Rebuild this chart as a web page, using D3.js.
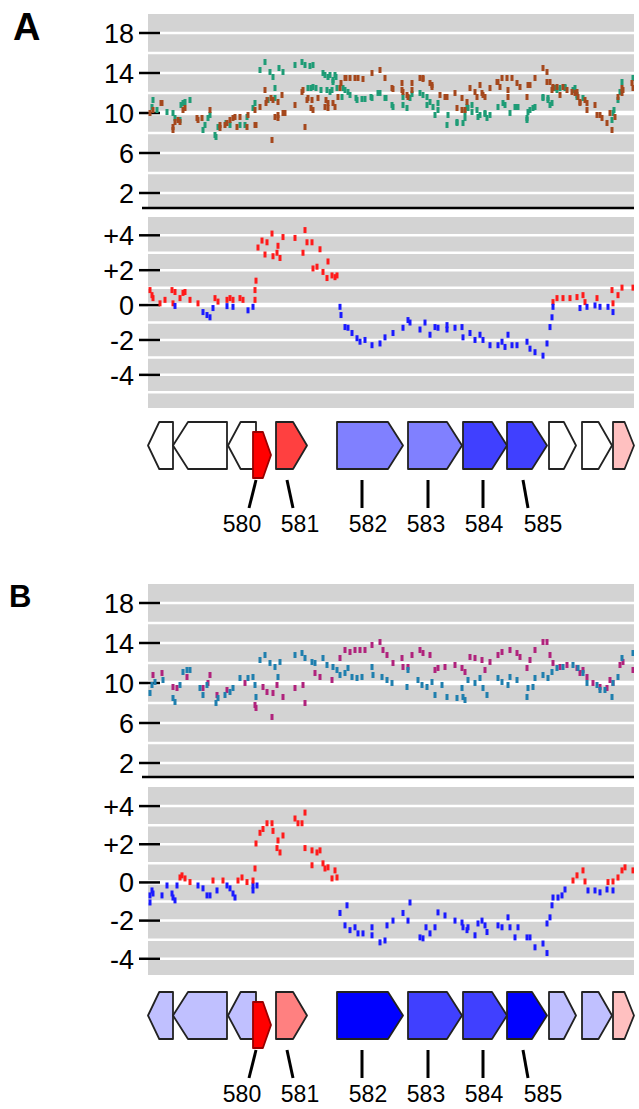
<!DOCTYPE html>
<html>
<head>
<meta charset="UTF-8">
<style>
  body { margin: 0; background: #fff; }
  svg { display: block; font-family: "Liberation Sans", Arial, sans-serif; }
</style>
<script src="https://d3js.org/d3.v7.min.js"></script>
</head>
<body>
<svg id="chart" width="639" height="1109"></svg>
<script>
// [position along the locus (0-486), value]

// panel A, upper track: two samples
var aTopGreen = [[4,10.6],[5,11.3],[9,10.3],[19,10.1],[25,10.0],[27,9.5],[32,9.3],[33,10.8],[35,11.0],[37,11.1],[42,11.3],[55,8.3],[57,8.8],[60,9.5],[62,9.8],[67,7.8],[68,7.6],[70,8.6],[78,9.0],[82,8.8],[92,8.8],[97,8.8],[99,9.6],[105,10.5],[107,11.0],[112,14.3],[117,15.1],[120,11.3],[122,14.1],[125,13.6],[127,12.5],[127,11.5],[131,14.5],[135,14.1],[147,14.8],[154,15.1],[157,14.8],[160,12.5],[162,14.7],[163,12.5],[165,14.8],[165,12.6],[168,12.5],[173,12.3],[175,14.0],[177,13.8],[179,12.3],[180,13.6],[182,13.8],[182,12.1],[184,12.3],[185,13.1],[185,13.3],[187,13.8],[188,13.6],[189,12.5],[194,11.6],[195,12.5],[197,12.3],[200,12.1],[202,11.8],[208,11.5],[209,11.3],[214,11.4],[217,11.4],[223,11.6],[224,11.5],[230,12.0],[232,12.0],[237,11.5],[238,11.5],[244,10.8],[245,10.6],[255,10.8],[255,11.6],[259,10.5],[262,11.5],[264,11.9],[272,12.0],[275,11.8],[279,11.6],[279,10.8],[282,11.1],[285,10.6],[287,9.8],[290,10.3],[290,11.0],[299,8.8],[300,9.8],[309,9.0],[309,9.1],[315,9.0],[317,9.5],[317,10.1],[319,10.6],[320,10.5],[324,10.8],[324,10.1],[329,10.3],[330,9.6],[332,9.8],[337,10.0],[337,9.9],[339,9.5],[342,9.8],[350,10.6],[355,11.0],[357,10.8],[362,10.0],[367,10.6],[369,10.6],[370,10.6],[379,9.5],[379,9.3],[380,10.1],[382,10.3],[385,10.5],[387,10.6],[395,11.6],[395,11.5],[400,11.3],[400,11.5],[402,10.8],[404,11.0],[407,12.5],[409,12.3],[412,12.5],[417,12.5],[417,12.6],[425,12.3],[427,12.5],[429,11.6],[429,11.8],[435,11.5],[464,9.3],[465,10.0],[466,10.3],[470,11.3],[472,12.1],[474,13.1],[485,13.5]];
var aTopBrown = [[2,10.0],[5,10.3],[13,11.0],[14,11.0],[25,8.6],[25,8.3],[27,9.1],[30,9.3],[32,9.1],[35,10.3],[37,10.5],[49,9.5],[50,9.3],[54,9.5],[62,10.3],[72,8.8],[72,8.5],[77,8.8],[79,9.0],[82,9.3],[85,9.5],[87,9.6],[89,8.6],[92,9.6],[99,8.6],[100,9.8],[107,8.8],[107,10.3],[108,8.8],[112,10.6],[117,12.3],[118,11.0],[119,11.3],[123,11.5],[124,7.3],[125,11.3],[127,9.6],[130,9.5],[130,11.1],[130,9.8],[134,11.8],[135,10.0],[137,10.0],[147,10.8],[154,12.1],[155,12.3],[157,8.6],[159,11.3],[160,11.5],[163,10.5],[164,11.3],[165,10.3],[170,11.5],[177,10.6],[178,11.3],[180,11.0],[180,10.5],[185,11.0],[187,10.6],[190,11.6],[192,12.5],[193,13.0],[197,13.5],[198,13.5],[202,13.5],[207,13.5],[210,13.5],[215,13.4],[224,14.0],[232,14.3],[237,13.5],[244,12.5],[245,12.4],[254,13.0],[254,12.3],[255,12.1],[259,11.8],[260,11.6],[264,13.0],[264,12.3],[272,13.5],[275,13.4],[275,13.5],[282,13.0],[284,12.8],[284,12.6],[292,11.8],[297,11.6],[299,11.6],[307,12.0],[309,10.5],[314,11.5],[314,10.3],[317,10.3],[319,11.1],[322,12.5],[327,12.1],[329,11.6],[332,12.8],[334,12.0],[335,11.8],[337,11.6],[342,12.5],[349,13.1],[350,13.1],[352,12.6],[354,13.5],[359,13.5],[360,12.3],[360,11.6],[364,13.5],[369,13.0],[372,12.6],[379,11.6],[380,12.8],[382,12.8],[387,13.5],[395,14.5],[399,14.1],[399,13.1],[402,13.1],[404,12.3],[405,12.6],[405,12.5],[409,12.6],[412,11.8],[415,12.6],[419,12.3],[424,12.1],[427,12.0],[429,12.1],[430,11.6],[432,11.0],[432,11.1],[437,11.3],[439,10.3],[439,11.0],[447,10.8],[449,9.8],[452,9.8],[454,9.5],[459,9.0],[462,10.0],[464,8.3],[467,9.6],[470,11.6],[474,12.0],[474,12.5],[475,12.3],[484,13.0],[485,12.5]];
// panel A, lower track: log2 difference
var aLow = [[2,0.86],[4,0.57],[5,0.4],[12,0.1],[17,0.3],[24,0.86],[25,0.1],[27,0.75],[32,0.4],[35,0.7],[37,0.75],[42,0.3],[50,0.1],[67,0.4],[70,0.2],[79,0.3],[82,0.4],[85,0.3],[92,0.4],[95,0.3],[107,0.3],[107,0.86],[108,1.4],[110,3.3],[114,3.7],[117,2.9],[119,3.6],[124,4.1],[125,2.8],[129,3.0],[130,3.4],[132,2.7],[135,3.9],[147,3.85],[155,3.0],[157,4.3],[159,3.6],[164,3.6],[165,2.1],[169,2.2],[172,3.2],[175,1.9],[179,1.55],[180,2.5],[184,1.7],[187,1.6],[189,1.7],[405,0.17],[409,0.4],[415,0.4],[422,0.4],[429,0.46],[435,0.57],[437,0.17],[449,0.4],[464,0.86],[465,0.1],[470,0.57],[474,1.0],[485,1.0],
  [27,-0.05],[55,-0.4],[59,-0.57],[62,-0.7],[65,-0.17],[79,-0.06],[85,-0.1],[100,-0.3],[105,-0.1],[192,-0.1],[193,-0.57],[197,-1.26],[200,-1.3],[204,-1.6],[209,-1.9],[212,-2.1],[217,-2.0],[224,-2.3],[232,-2.2],[237,-1.85],[245,-1.6],[255,-1.3],[260,-0.86],[262,-1.0],[272,-1.4],[277,-1.0],[282,-1.7],[287,-1.26],[290,-1.3],[299,-1.4],[299,-1.15],[307,-1.3],[314,-1.26],[315,-1.85],[322,-1.6],[327,-2.0],[332,-1.7],[335,-2.0],[342,-2.3],[350,-2.3],[354,-2.1],[357,-2.4],[360,-1.7],[364,-2.3],[369,-2.3],[379,-2.1],[382,-2.5],[387,-2.7],[395,-2.9],[399,-2.2],[402,-1.26],[404,-0.7],[405,-0.1],[432,-0.17],[439,-0.1],[447,-0.02],[452,-0.1],[460,-0.1],[465,-0.4]];

// panel B, upper track
var bTopBlue = [[2,9.0],[4,9.8],[7,10.1],[15,10.3],[25,8.5],[27,8.1],[32,9.8],[35,11.1],[39,11.3],[42,11.3],[52,9.5],[55,8.8],[59,9.8],[68,8.0],[70,8.5],[77,8.8],[82,9.1],[85,9.5],[92,10.5],[100,10.5],[105,10.6],[107,9.8],[108,8.6],[112,12.3],[117,12.8],[122,12.0],[127,11.6],[130,10.6],[132,12.1],[147,12.8],[154,13.0],[157,12.5],[164,12.1],[167,12.0],[175,12.5],[179,11.8],[185,11.6],[189,11.3],[192,10.8],[197,11.0],[200,11.5],[204,10.6],[209,10.5],[214,10.6],[224,11.6],[225,10.8],[234,10.6],[239,10.3],[244,10.0],[259,9.6],[260,11.3],[270,10.3],[274,9.8],[279,9.6],[284,10.1],[287,8.8],[294,9.8],[299,8.6],[309,8.5],[314,9.5],[315,8.6],[317,8.3],[320,10.3],[327,10.0],[332,10.5],[335,9.5],[339,8.8],[350,10.5],[354,10.1],[360,9.8],[362,10.6],[369,10.3],[379,8.6],[380,9.5],[385,9.6],[387,10.5],[395,10.8],[400,10.5],[404,11.1],[409,11.5],[415,11.6],[425,11.8],[430,11.5],[435,11.0],[439,10.0],[449,9.8],[452,9.3],[457,9.3],[464,8.6],[465,10.0],[470,10.6],[474,12.5],[485,13.0]];
var bTopMagenta = [[5,10.8],[14,11.0],[25,9.6],[29,9.5],[39,10.6],[55,9.5],[60,10.0],[62,10.8],[69,8.8],[79,9.3],[97,10.0],[107,7.8],[108,7.5],[115,9.6],[119,9.1],[124,6.6],[125,9.0],[129,9.8],[135,8.6],[147,9.5],[155,9.8],[157,8.0],[167,11.0],[172,10.6],[184,10.3],[192,12.5],[197,13.3],[202,13.1],[207,13.3],[212,13.3],[217,13.3],[224,13.8],[232,14.1],[235,13.3],[239,12.8],[245,12.0],[254,12.5],[255,11.6],[260,11.6],[264,12.8],[272,13.3],[275,13.0],[282,12.8],[287,11.3],[290,11.5],[297,11.6],[307,11.8],[314,11.5],[317,11.1],[322,12.6],[327,12.5],[334,12.3],[337,11.3],[342,12.1],[350,12.8],[354,13.1],[362,13.3],[369,13.0],[372,12.6],[379,11.5],[382,12.3],[387,13.3],[395,14.1],[399,14.1],[402,12.8],[405,12.0],[412,11.6],[419,11.8],[429,11.5],[432,11.0],[435,11.3],[439,10.6],[445,10.0],[452,9.6],[459,9.5],[462,10.3],[465,10.0],[472,11.8],[475,12.1],[485,11.3]];
// panel B, lower track
var bLow = [[2,-0.68],[4,-0.42],[2,-1.05],[5,-0.58],[14,-0.68],[19,-0.16],[24,-0.58],[25,-0.79],[27,-0.94],[29,-0.16],[50,-0.16],[55,-0.31],[59,-0.68],[62,-0.68],[69,-0.42],[79,-0.16],[82,-0.31],[85,-0.58],[87,-0.79],[105,-0.16],[105,-0.42],[109,-0.16],[192,-1.6],[199,-1.2],[197,-2.25],[202,-2.5],[207,-2.35],[210,-2.67],[215,-2.67],[224,-2.35],[224,-2.77],[232,-3.14],[237,-3.04],[239,-2.25],[245,-2.0],[255,-1.6],[260,-2.0],[262,-1.05],[272,-2.88],[275,-2.93],[278,-2.35],[282,-2.67],[287,-2.35],[290,-1.57],[297,-1.73],[307,-2.0],[314,-2.1],[315,-2.35],[319,-2.5],[320,-2.35],[327,-2.77],[330,-2.15],[334,-2.0],[337,-2.25],[339,-2.6],[350,-2.25],[354,-2.35],[360,-1.83],[362,-2.35],[367,-2.88],[370,-2.35],[379,-2.88],[382,-2.88],[387,-3.4],[395,-3.2],[399,-3.7],[399,-2.15],[402,-1.83],[404,-1.2],[405,-0.79],[410,-0.79],[414,-0.68],[417,-0.37],[440,-0.42],[447,-0.42],[452,-0.52],[459,-0.37],[465,-0.42],
  [32,0.26],[34,0.37],[37,0.21],[42,0.02],[65,0.1],[75,0.1],[90,0.1],[94,0.26],[99,0.02],[105,0.1],[107,0.73],[108,2.04],[112,2.6],[115,2.8],[119,3.1],[124,3.1],[125,2.7],[130,2.2],[129,1.8],[132,1.57],[135,2.46],[147,3.35],[150,3.1],[154,3.1],[157,3.66],[157,1.8],[164,1.68],[164,0.9],[169,1.57],[172,1.68],[175,1.0],[177,0.73],[180,0.79],[184,0.21],[187,0.63],[189,0.26],[425,0.1],[429,0.37],[435,0.63],[437,0.05],[460,0.02],[465,0.05],[470,0.26],[474,0.63],[477,0.79],[485,0.63]];

// gene track
var geneStart  = [0, 25, 80, 105, 128, 189, 260, 315, 359, 401, 434, 465];
var geneEnd    = [25, 79, 108, 123, 159, 255, 314, 359, 399, 428, 464, 486];
var geneStrand = [-1, -1, -1, 1, 1, 1, 1, 1, 1, 1, 1, 1];
var geneFillA  = ["#ffffff","#ffffff","#ffffff","#ff0000","#ff4040","#8080ff","#8080ff","#4040ff","#4040ff","#ffffff","#ffffff","#ffc0c0"];
var geneFillB  = ["#c0c0ff","#c0c0ff","#c0c0ff","#ff0000","#ff8080","#0000ff","#4040ff","#4040ff","#0000ff","#c0c0ff","#c0c0ff","#ffc0c0"];
var geneLabels = ["580","581","582","583","584","585"];
var labelLineTop    = [108, 139, 214, 280, 335, 375];
var labelLineBottom = [101, 145, 214, 280, 335, 380];
var labelTextPos    = [94, 152, 220, 278, 336, 395];

var topTicks = [18, 14, 10, 6, 2];
var lowTicks = [4, 2, 0, -2, -4];

var svg = d3.select("#chart");
var x = d3.scaleLinear().domain([0, 486]).range([148, 634]);

var panels = [
  { name: "A", nameX: 13, nameY: 40, nameSize: 38,
    top: d3.scaleLinear().domain([0, 20]).range([213, 13]), sep: 208,
    low: d3.scaleLinear().domain([-5.9, 5.05]).range([408, 217]),
    s1: aTopGreen, c1: "#1f9c76", s2: aTopBrown, c2: "#a5481d",
    lowData: aLow, fills: geneFillA, geneY: 422 },
  { name: "B", nameX: 9, nameY: 607, nameSize: 31,
    top: d3.scaleLinear().domain([0, 20]).range([783, 583]), sep: 777,
    low: d3.scaleLinear().domain([-4.85, 5]).range([975, 787]),
    s1: bTopMagenta, c1: "#b0237c", s2: bTopBlue, c2: "#1f7fae",
    lowData: bLow, fills: geneFillB, geneY: 992 }
];

var defs = svg.append("defs");

panels.forEach(function(p, pi) {
  var g = svg.append("g");

  g.append("text")
    .attr("x", p.nameX).attr("y", p.nameY)
    .attr("font-size", p.nameSize).attr("font-weight", "bold")
    .text(p.name);

  // ---- upper track
  var tTop = p.top(19.9), tBot = p.top(0.6);
  g.append("rect").attr("x", x(0)).attr("width", x(486) - x(0))
    .attr("y", tTop).attr("height", tBot - tTop).attr("fill", "#d3d3d3");
  g.selectAll(".tgrid").data(d3.range(2, 20, 2)).enter().append("line")
    .attr("x1", x(0)).attr("x2", x(486))
    .attr("y1", d => p.top(d)).attr("y2", d => p.top(d))
    .attr("stroke", "#fff").attr("stroke-width", d => d === 10 ? 4.5 : 2.5);

  // ---- lower track
  var ld = p.low.domain();
  var lTop = p.low(ld[1]), lBot = p.low(ld[0]);
  g.append("rect").attr("x", x(0)).attr("width", x(486) - x(0))
    .attr("y", lTop).attr("height", lBot - lTop).attr("fill", "#d3d3d3");
  var lg = d3.range(Math.ceil(ld[0]), Math.floor(ld[1]) + 1)
    .filter(d => p.low(d) > lTop + 6 && p.low(d) < lBot - 6);
  g.selectAll(".lgrid").data(lg).enter().append("line")
    .attr("x1", x(0)).attr("x2", x(486))
    .attr("y1", d => p.low(d)).attr("y2", d => p.low(d))
    .attr("stroke", "#fff").attr("stroke-width", d => d === 0 ? 4.5 : 2.5);

  // separator
  g.append("line").attr("x1", 142).attr("x2", x(486))
    .attr("y1", p.sep).attr("y2", p.sep)
    .attr("stroke", "#000").attr("stroke-width", 2.5);

  // ticks
  function ticks(vals, sc, fmt) {
    var t = g.selectAll(null).data(vals).enter().append("g")
      .attr("transform", d => "translate(0," + sc(d) + ")");
    t.append("line").attr("x1", 139).attr("x2", 160)
      .attr("stroke", "#000").attr("stroke-width", 2.5);
    t.append("text").attr("x", 134).attr("dy", "0.36em")
      .attr("text-anchor", "end").attr("font-size", 27)
      .text(fmt);
  }
  ticks(topTicks, p.top, d => d);
  ticks(lowTicks, p.low, d => d > 0 ? "+" + d : d);

  // dots
  defs.append("clipPath").attr("id", "clipT" + pi).append("rect")
    .attr("x", x(0)).attr("y", tTop).attr("width", x(486) - x(0)).attr("height", tBot - tTop);
  defs.append("clipPath").attr("id", "clipL" + pi).append("rect")
    .attr("x", x(0)).attr("y", lTop).attr("width", x(486) - x(0)).attr("height", lBot - lTop);

  var dt = g.append("g").attr("clip-path", "url(#clipT" + pi + ")");
  [[p.s1, p.c1], [p.s2, p.c2]].forEach(function(s) {
    dt.selectAll(null).data(s[0]).enter().append("rect")
      .attr("x", d => x(d[0]) - 1.5).attr("y", d => p.top(d[1]) - 3)
      .attr("width", 3).attr("height", 6).attr("fill", s[1]);
  });
  var dl = g.append("g").attr("clip-path", "url(#clipL" + pi + ")");
  dl.selectAll(null).data(p.lowData).enter().append("rect")
    .attr("x", d => x(d[0]) - 1.5).attr("y", d => p.low(d[1]) - 3)
    .attr("width", 3).attr("height", 6)
    .attr("fill", d => d[1] >= 0 ? "#ff1a1a" : "#1a1aff");

  // ---- genes
  var gy = p.geneY, gh = 47;
  var genes = geneStart.map((s, i) => ({ s: s, e: geneEnd[i], dir: geneStrand[i], fill: p.fills[i], shift: i === 3 ? 10 : 0 }));
  g.selectAll(".gene").data(genes).enter().append("path")
    .attr("d", function(d) {
      var x0 = x(d.s), x1 = x(d.e), t = gy + d.shift, b = t + (d.shift ? 46 : gh), m = (t + b) / 2;
      var h = Math.min(15, 0.45 * (x1 - x0));
      if (d.dir > 0)
        return "M" + x0 + "," + t + "L" + (x1 - h) + "," + t + "L" + x1 + "," + m + "L" + (x1 - h) + "," + b + "L" + x0 + "," + b + "Z";
      return "M" + x1 + "," + t + "L" + (x0 + h) + "," + t + "L" + x0 + "," + m + "L" + (x0 + h) + "," + b + "L" + x1 + "," + b + "Z";
    })
    .attr("fill", d => d.fill)
    .attr("stroke", d => d.fill === "#ff0000" ? "#900" : "#222")
    .attr("stroke-width", 1.8).attr("stroke-linejoin", "round");

  g.selectAll(".glab").data(geneLabels).enter().append("line")
    .attr("x1", (d, i) => x(labelLineTop[i])).attr("x2", (d, i) => x(labelLineBottom[i]))
    .attr("y1", gy + 58).attr("y2", gy + 86)
    .attr("stroke", "#000").attr("stroke-width", 3);
  g.selectAll(".gtxt").data(geneLabels).enter().append("text")
    .attr("x", (d, i) => x(labelTextPos[i])).attr("y", gy + 110)
    .attr("text-anchor", "middle").attr("font-size", 23)
    .text(d => d);
});
</script>
</body>
</html>
